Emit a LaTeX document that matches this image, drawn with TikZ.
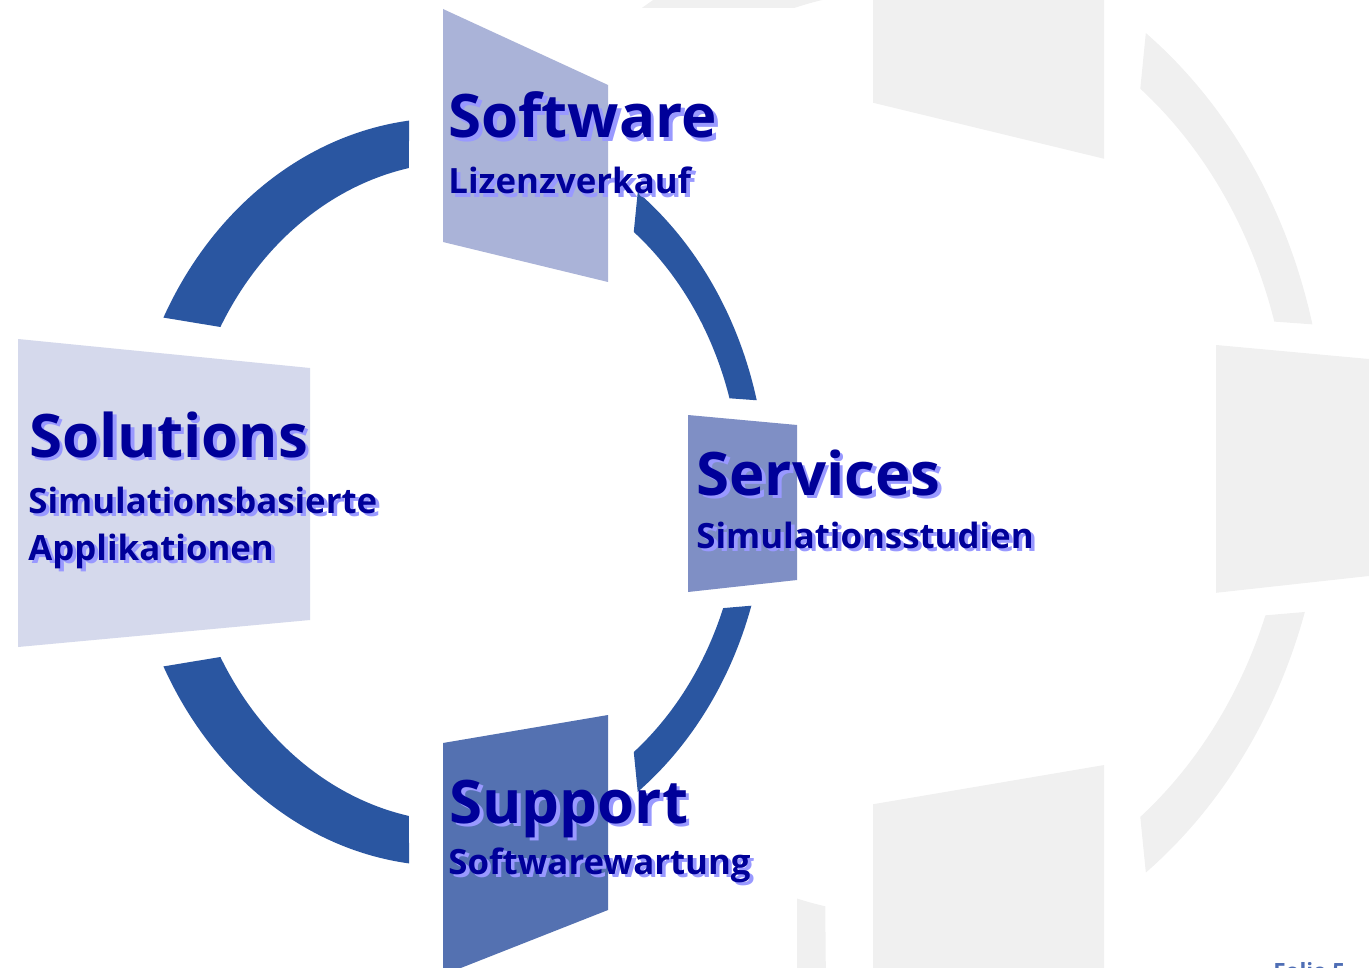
\documentclass[tikz,border=0pt]{standalone}
\usepackage{fontspec}
\setmainfont{Open Sans}
\usetikzlibrary{calc}

\definecolor{ringblue}{HTML}{2A56A1}
\definecolor{softwarefill}{HTML}{AAB3D8}
\definecolor{solutionsfill}{HTML}{D5D9EC}
\definecolor{servicesfill}{HTML}{7F8FC5}
\definecolor{supportfill}{HTML}{5471B1}
\definecolor{ghostgray}{HTML}{F0F0F0}
\definecolor{titleblue}{HTML}{000099}
\definecolor{shadowblue}{HTML}{9999FF}
\definecolor{folioblue}{HTML}{4F6EB5}

\newcommand{\shadowed}[1]{\makebox[0pt][l]{\hspace{1.8pt}\raisebox{-1.8pt}{\textcolor{shadowblue}{#1}}}#1}

% ring pieces between the outer and the inner ellipse
\newcommand{\ringTL}{($(446.5,492)+(263.3:320 and 374)$) arc[start angle=263.3, end angle=207.8, x radius=320, y radius=374]
  -- ($(462,492)+(210:279 and 330)$) arc[start angle=210, end angle=259, x radius=279, y radius=330] -- cycle}
\newcommand{\ringTR}{($(446.5,492)+(-53.3:320 and 374)$) arc[start angle=-53.3, end angle=-14.2, x radius=320, y radius=374]
  -- ($(462,492)+(-16.5:279 and 330)$) arc[start angle=-16.5, end angle=-52, x radius=279, y radius=330] -- cycle}
\newcommand{\ringBR}{($(446.5,492)+(17.7:320 and 374)$) arc[start angle=17.7, end angle=53.3, x radius=320, y radius=374]
  -- ($(462,492)+(52:279 and 330)$) arc[start angle=52, end angle=20.6, x radius=279, y radius=330] -- cycle}
\newcommand{\ringBL}{($(446.5,492)+(96.7:320 and 374)$) arc[start angle=96.7, end angle=152.2, x radius=320, y radius=374]
  -- ($(462,492)+(150:279 and 330)$) arc[start angle=150, end angle=101, x radius=279, y radius=330] -- cycle}

\newcommand{\panelSoftware}{(443,9) -- (608,85) -- (608,282) -- (443,242) -- cycle}
\newcommand{\panelSolutions}{(18,339) -- (310,368) -- (310,620) -- (18,647) -- cycle}
\newcommand{\panelServices}{(688,415) -- (797,425) -- (797,580) -- (688,592) -- cycle}
\newcommand{\panelSupport}{(443,743) -- (608,715) -- (608,910) -- (443,975) -- cycle}

\begin{document}
\begin{tikzpicture}[x=0.5pt, y=-0.5pt,
    title/.style = {anchor=base west, inner sep=0pt, text=titleblue, font=\fontsize{30}{35}\selectfont\bfseries},
    subtitle/.style = {anchor=base west, inner sep=0pt, text=titleblue, font=\fontsize{17.4}{21}\selectfont\bfseries}]
    \useasboundingbox (0,0) rectangle (1370,968);
    \clip (0,0) rectangle (1370,968);

    \begin{scope}[shift={(253,-236)}, scale=1.4]
        \fill[ghostgray] \panelSoftware;
        \fill[ghostgray] \panelSolutions;
        \fill[ghostgray] \panelServices;
        \fill[ghostgray] \panelSupport;
        \fill[ghostgray] \ringTL;
        \fill[ghostgray] \ringTR;
        \fill[ghostgray] \ringBR;
        \fill[ghostgray] \ringBL;
    \end{scope}
    \fill[white] (0,8) rectangle (797,968);

    \fill[softwarefill] \panelSoftware;
    \fill[solutionsfill] \panelSolutions;
    \fill[servicesfill] \panelServices;
    \fill[supportfill] \panelSupport;
    \fill[ringblue] \ringTL;
    \fill[ringblue] \ringTR;
    \fill[ringblue] \ringBR;
    \fill[ringblue] \ringBL;

    \node[title] (software) at (448,138) {\shadowed{Software}};
    \node[subtitle] (lizenz) at (448,194) {\shadowed{Lizenzverkauf}};
    \node[title] (solutions) at (29,457) {\shadowed{Solutions}};
    \node[subtitle] (simbasiert) at (28,513) {\shadowed{Simulationsbasierte}};
    \node[subtitle] (applik) at (28,560) {\shadowed{Applikationen}};
    \node[title] (services) at (696,495) {\shadowed{Services}};
    \node[subtitle] (studien) at (696,548) {\shadowed{Simulationsstudien}};
    \node[title] (support) at (449,823) {\shadowed{Support}};
    \node[subtitle] (wartung) at (448,874) {\shadowed{Softwarewartung}};
    \node[anchor=base west, inner sep=0pt, text=folioblue, font=\fontsize{11.2}{13}\selectfont\bfseries] (folie) at (1273,979) {Folie 5};
\end{tikzpicture}
\end{document}
